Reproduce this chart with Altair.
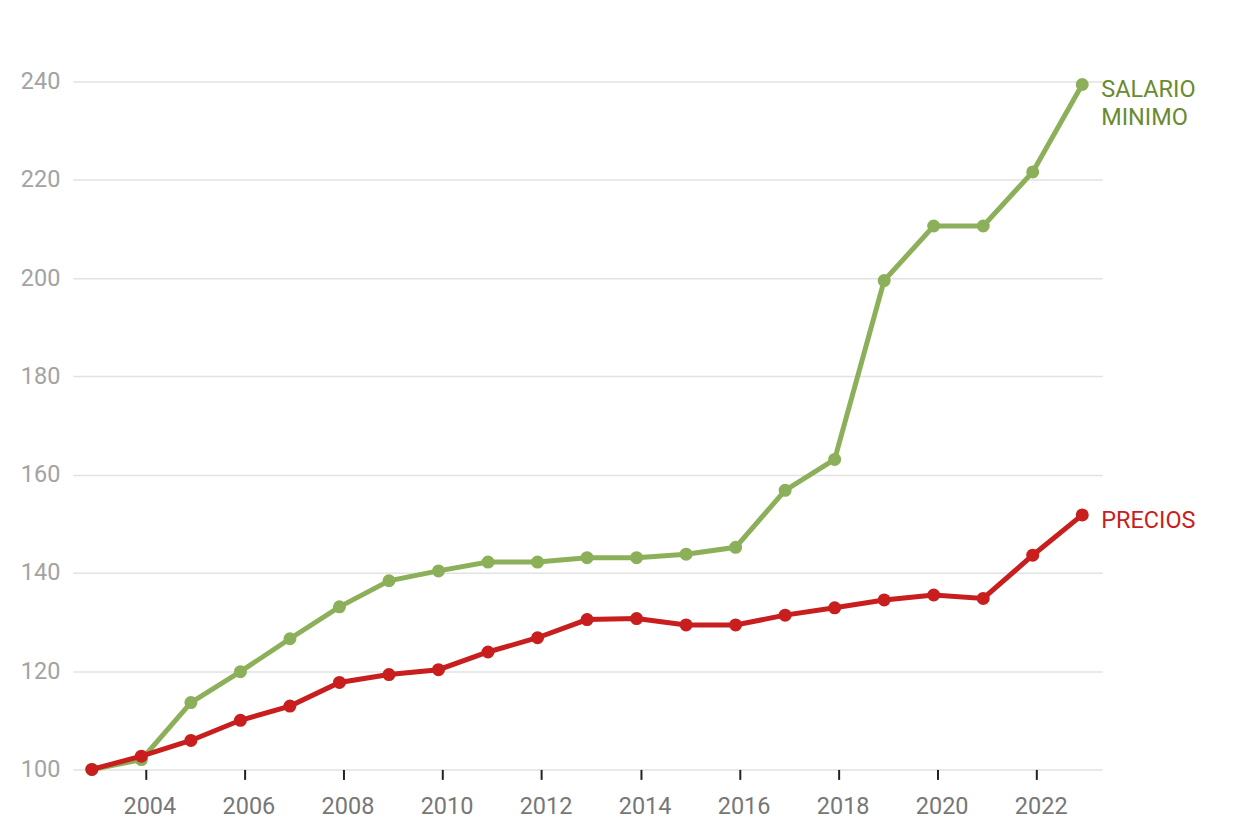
import altair as alt
import pandas as pd

years = list(range(2003, 2024))
salario = [100.0, 102.0, 113.6, 119.9, 126.6, 133.1, 138.4, 140.4, 142.2, 142.2,
           143.1, 143.1, 143.8, 145.2, 156.8, 163.1, 199.5, 210.6, 210.6, 221.6, 239.4]
precios = [100.0, 102.7, 105.9, 110.0, 112.9, 117.7, 119.3, 120.3, 123.9, 126.8,
           130.5, 130.7, 129.4, 129.4, 131.4, 132.9, 134.5, 135.5, 134.8, 143.6, 151.8]
series_names = ["SALARIO MINIMO", "PRECIOS"]
label_lines = [["SALARIO", "MINIMO"], ["PRECIOS"]]
line_colors = ["#8cb05a", "#c81e1e"]
text_colors = ["#6a8a30", "#c81e1e"]
y_ticks = [100, 120, 140, 160, 180, 200, 220, 240]
x_tick_years = [2004, 2006, 2008, 2010, 2012, 2014, 2016, 2018, 2020, 2022]

df_sal = pd.DataFrame({"anio": years, "valor": salario, "serie": series_names[0]})
df_pre = pd.DataFrame({"anio": years, "valor": precios, "serie": series_names[1]})

FS = 23.5

x_enc = alt.X(
    "anio:Q",
    scale=alt.Scale(domain=[2002.617, 2023.403], nice=False, zero=False),
    axis=alt.Axis(
        title=None,
        values=x_tick_years,
        format="d",
        domain=False,
        grid=False,
        ticks=True,
        tickSize=10,
        tickWidth=2,
        tickOffset=4,
        labelOffset=4,
        tickColor="#222222",
        labelPadding=15,
        labelFontSize=FS,
        labelColor="#777777",
        labelFont="Roboto",
    ),
)
y_enc = alt.Y(
    "valor:Q",
    scale=alt.Scale(domain=[100, 240], nice=False, zero=False),
    axis=alt.Axis(
        title=None,
        values=y_ticks,
        domain=False,
        ticks=False,
        tickSize=0,
        labelPadding=13,
        labelFontSize=FS,
        labelColor="#a3a3a3",
        labelFont="Roboto",
        gridColor="#e2e2e2",
        gridWidth=1.5,
    ),
)


def series_layers(df, color, tcolor, lines):
    base = alt.Chart(df).encode(x=x_enc, y=y_enc)
    ln = base.mark_line(color=color, strokeWidth=5)
    pt = base.mark_circle(color=color, size=170, opacity=1)
    last = df.iloc[[-1]].copy()
    last["label"] = [lines]
    txt = alt.Chart(last).mark_text(
        align="left", baseline="top", dx=19, dy=-6, fontSize=FS,
        font="Roboto", color=tcolor, lineHeight=28,
    ).encode(x=x_enc, y=y_enc, text="label")
    return [ln, pt, txt]


layers = series_layers(df_sal, line_colors[0], text_colors[0], label_lines[0]) + \
    series_layers(df_pre, line_colors[1], text_colors[1], label_lines[1])

chart = alt.layer(*layers).properties(
    width=1031,
    height=689,
    autosize=alt.AutoSizeParams(type="none"),
    padding={"left": 65, "top": 73, "right": 130, "bottom": 60},
    background="white",
).configure_view(stroke=None)

chart.save("out.html", embed_options={"renderer": "svg", "actions": False})
